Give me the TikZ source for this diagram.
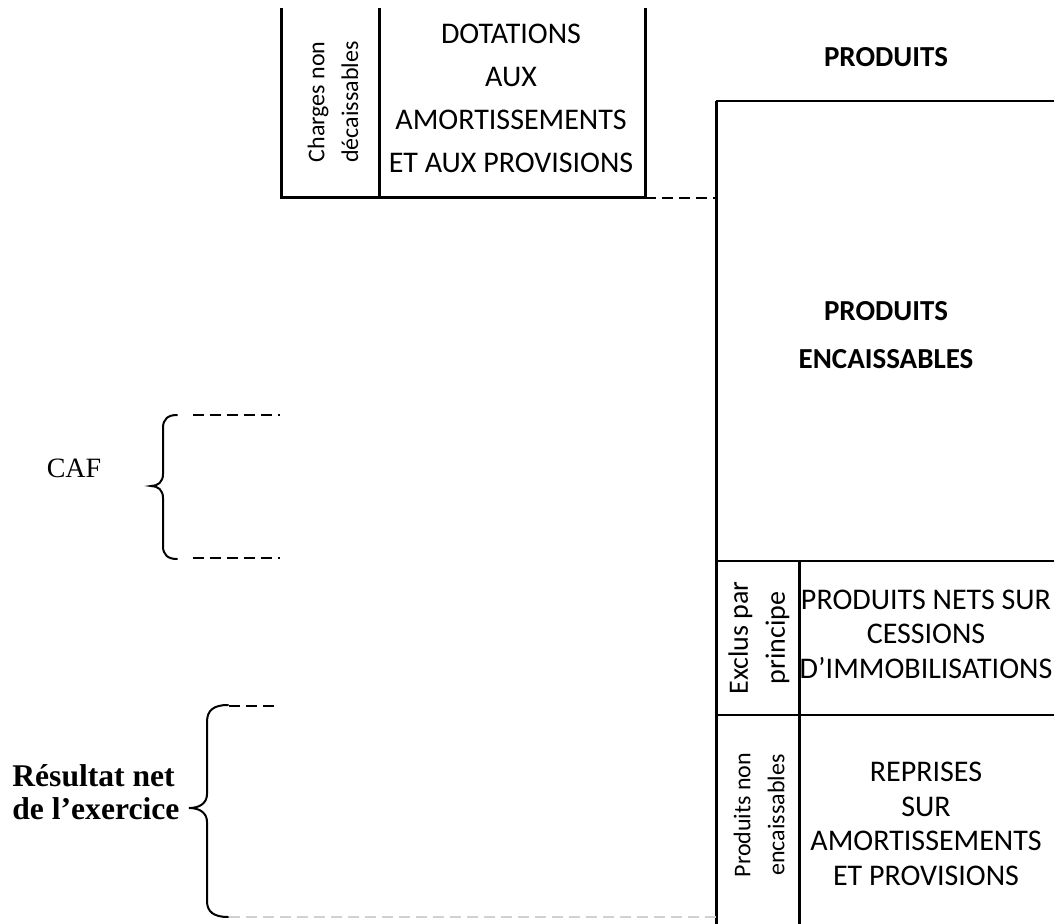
\documentclass[tikz,border=0pt]{standalone}
\usepackage{fontspec}
\setmainfont{Carlito}
\newfontfamily\labelserif{Liberation Serif}
\begin{document}
\begin{tikzpicture}[x=0.5pt,y=-0.5pt,
  heavy/.style={line width=1.5pt},
  medium/.style={line width=1pt},
  light/.style={line width=0.75pt},
  dashlink/.style={line width=1pt,dash pattern=on 5.5pt off 3pt},
  greylink/.style={line width=1pt,dash pattern=on 5.5pt off 3pt,draw=black!18},
  bracepath/.style={line width=1pt,line cap=round},
  body/.style={inner sep=0pt,align=center,font=\fontsize{15}{17.3}\selectfont},
  bodywide/.style={inner sep=0pt,align=center,font=\fontsize{15}{21.5}\selectfont},
  bodybold/.style={inner sep=0pt,align=center,font=\fontsize{14.5}{18}\selectfont\bfseries},
  sidebig/.style={inner sep=0pt,align=center,rotate=90,font=\fontsize{14}{18.5}\selectfont},
  sidesmall/.style={inner sep=0pt,align=center,rotate=90,font=\fontsize{12}{17}\selectfont},
  serifbrace/.style={inner sep=0pt,align=left,font=\labelserif\fontsize{14}{16}\selectfont},
  serifbold/.style={inner sep=0pt,align=left,font=\labelserif\bfseries\fontsize{15.8}{16.5}\selectfont}]
\useasboundingbox (0,0) rectangle (1054,924);

% ---- charges block (top left) ----
\coordinate (cTL) at (281,8);
\coordinate (cBL) at (281,198);
\coordinate (cTM) at (379,8);
\coordinate (cBM) at (379,198);
\coordinate (cTR) at (645,8);
\coordinate (cBR) at (645,198);
\draw[heavy] (cTL) -- (cBL) -- (cBR) -- (cTR);
\draw[heavy] (cTM) -- (cBM);
\node[sidesmall] (charges) at (333,102) {Charges non\\décaissables};
\node[bodywide] (dotations) at (511,98) {DOTATIONS\\AUX\\AMORTISSEMENTS\\ET AUX PROVISIONS};

% ---- produits block (right) ----
\coordinate (pTL) at (716,101);
\coordinate (pTR) at (1054,101);
\coordinate (pBL) at (716,924);
\coordinate (pML) at (716,198);
\coordinate (eTL) at (716,561);
\coordinate (eTR) at (1054,561);
\coordinate (rTL) at (716,715);
\coordinate (rTR) at (1054,715);
\coordinate (dT) at (799,561);
\coordinate (dB) at (799,924);
\draw[heavy] (pBL) -- (pTL);
\draw[medium] (pTL) -- (pTR);
\draw[light] (eTL) -- (eTR);
\draw[light] (rTL) -- (rTR);
\draw[heavy] (dT) -- (dB);

\node[bodybold] (produitsHead) at (886,57) {PRODUITS};
\node[bodybold] (encaiss) at (886,335) {PRODUITS\\[6pt]ENCAISSABLES};
\node[sidebig] (exclus) at (759,638) {Exclus par\\principe};
\node[body] (cessions) at (926,634) {PRODUITS NETS SUR\\CESSIONS\\D’IMMOBILISATIONS};
\node[sidesmall] (nonenc) at (759,815) {Produits non\\encaissables};
\node[body] (reprises) at (926,824) {REPRISES\\SUR\\AMORTISSEMENTS\\ET PROVISIONS};

% ---- link between the two blocks ----
\draw[dashlink] (cBR) -- (pML);

% ---- CAF brace ----
\coordinate (cafTop) at (193,415);
\coordinate (cafTopEnd) at (280,415);
\coordinate (cafBot) at (193,558);
\coordinate (cafBotEnd) at (280,558);
\draw[dashlink] (cafTop) -- (cafTopEnd);
\draw[dashlink] (cafBot) -- (cafBotEnd);
\draw[bracepath] (177,415) .. controls (168,415) and (163,419) .. (163,428)
  -- (163,474) .. controls (163,482) and (158,486) .. (151,486)
  .. controls (158,486) and (163,490) .. (163,498)
  -- (163,546) .. controls (163,555) and (168,559) .. (177,559);
\node[serifbrace] (caf) at (74,468) {CAF};

% ---- net result brace ----
\coordinate (resTop) at (229,706);
\coordinate (resTopEnd) at (276,706);
\coordinate (resBot) at (229,917);
\draw[dashlink] (resTop) -- (resTopEnd);
\draw[greylink] (resBot) -- (pBL |- resBot);
\draw[bracepath] (228,705) .. controls (214,705) and (207,710) .. (207,722)
  -- (207,794) .. controls (207,803) and (200,808) .. (189,808)
  .. controls (200,808) and (207,813) .. (207,822)
  -- (207,901) .. controls (207,912) and (214,917) .. (228,917);
\node[serifbold,anchor=west] (resultat) at (12,792) {Résultat net\\de l’exercice};
\end{tikzpicture}
\end{document}
